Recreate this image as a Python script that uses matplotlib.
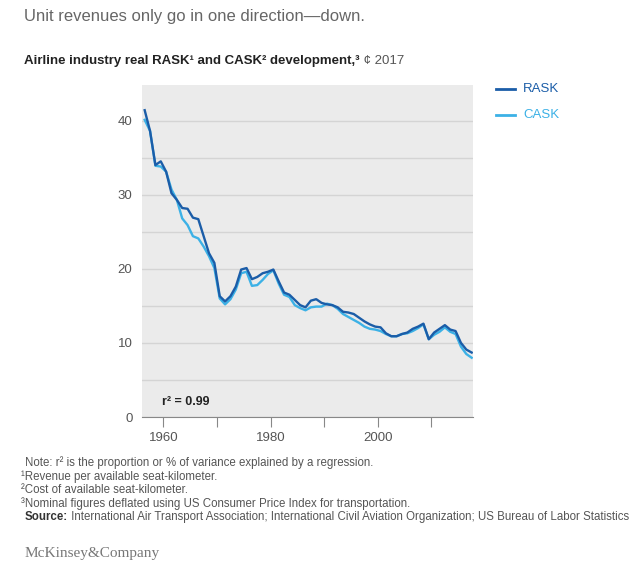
import numpy as np
import matplotlib.pyplot as plt

# annual values, real cents (2017)
years = np.arange(1956, 2018)
rask = [41.4, 38.6, 34.0, 34.5, 33.1, 30.2, 29.3, 28.2, 28.1, 26.9,
        26.7, 24.4, 22.1, 20.8, 16.3, 15.6, 16.3, 17.6, 19.9, 20.1,
        18.6, 18.9, 19.4, 19.6, 19.9, 18.3, 16.8, 16.5, 15.8, 15.1,
        14.8, 15.7, 15.9, 15.4, 15.2, 15.1, 14.8, 14.2, 14.1, 13.9,
        13.4, 12.9, 12.5, 12.2, 12.1, 11.3, 10.9, 10.9, 11.2, 11.4,
        11.9, 12.2, 12.6, 10.5, 11.4, 11.9, 12.4, 11.8, 11.6, 10.0,
        9.1, 8.7]
cask = [40.1, 38.6, 33.9, 33.8, 33.1, 30.7, 29.3, 26.8, 25.9, 24.4,
        24.1, 23.0, 21.7, 20.1, 16.0, 15.2, 15.9, 17.2, 19.4, 19.6,
        17.7, 17.8, 18.5, 19.3, 19.8, 18.0, 16.5, 16.2, 15.1, 14.7,
        14.4, 14.8, 14.9, 14.9, 15.3, 15.1, 14.6, 13.9, 13.5, 13.1,
        12.7, 12.2, 11.9, 11.8, 11.6, 11.2, 10.9, 10.9, 11.2, 11.3,
        11.6, 12.0, 12.5, 10.5, 11.1, 11.5, 12.1, 11.5, 11.2, 9.5,
        8.5, 8.0]
series_names = ["RASK", "CASK"]
ytick_vals = [0, 10, 20, 30, 40]
xtick_vals = [1960, 1970, 1980, 1990, 2000, 2010]
xtick_labels = ["1960", "", "1980", "", "2000", ""]

dark_blue = "#1b5da8"
light_blue = "#3cb1e6"
grey_text = "#555555"

plt.rcParams['font.family'] = ['Liberation Sans', 'DejaVu Sans']

fig = plt.figure(figsize=(6.4, 5.69), dpi=100)
ax = fig.add_axes([0.2223, 0.2671, 0.5172, 0.5835])
ax.set_facecolor("#ebebeb")

# mid-year positions for annual figures
ax.plot(years + 0.5, cask, color=light_blue, lw=1.7, label=series_names[1])
ax.plot(years + 0.5, rask, color=dark_blue, lw=1.7, label=series_names[0])

ax.set_xlim(1956.05, 2017.8)
ax.set_ylim(0, 44.8)
ax.set_yticks(ytick_vals)
ax.set_yticks(np.arange(5, 45, 10), minor=True)
ax.set_xticks(xtick_vals)
ax.set_xticklabels(xtick_labels)
ax.grid(axis="y", which="both", color="#d4d4d4", lw=1)
ax.set_axisbelow(True)
for s in ["top", "left", "right"]:
    ax.spines[s].set_visible(False)
ax.spines["bottom"].set_color("#888888")
ax.tick_params(axis="y", which="both", length=0, labelsize=9.5, labelcolor=grey_text, pad=7)
ax.tick_params(axis="x", length=7, color="#888888", labelsize=9.5, labelcolor=grey_text, pad=4)

ax.text(0.06, 0.045, "r² = 0.99", transform=ax.transAxes, fontsize=9,
        fontweight="bold", color="#222222", va="center")

# legend drawn by hand so the labels take the line colours
fig.lines.append(plt.Line2D([496/640, 515/640], [1-89/569, 1-89/569], color=dark_blue, lw=2, transform=fig.transFigure))
fig.lines.append(plt.Line2D([496/640, 515/640], [1-115/569, 1-115/569], color=light_blue, lw=2, transform=fig.transFigure))
fig.text(523/640, 1-89/569, "RASK", color=dark_blue, fontsize=9.5, va="center")
fig.text(523/640, 1-115/569, "CASK", color=light_blue, fontsize=9.5, va="center")

fig.text(24/640, 1-16/569, "Unit revenues only go in one direction\u2014down.",
         fontsize=12, color="#666666", va="center")
t1 = fig.text(24/640, 1-61/569, "Airline industry real RASK¹ and CASK² development,³",
              fontsize=9.5, fontweight="bold", color="#222222", va="center")
ax.annotate(" \u00a2 2017", xy=(1, 0.5), xycoords=t1, va="center", ha="left",
            fontsize=9.5, color=grey_text, annotation_clip=False)

notes = ["Note: r² is the proportion or % of variance explained by a regression.",
         "¹Revenue per available seat-kilometer.",
         "²Cost of available seat-kilometer.",
         "³Nominal figures deflated using US Consumer Price Index for transportation."]
note_y = [463, 477, 490, 504]
note_x = [25, 21, 21, 21]
for n, xx, yy in zip(notes, note_x, note_y):
    fig.text(xx/640, 1-yy/569, n, fontsize=8.3, color=grey_text, va="center")
src = fig.text(25/640, 1-517/569, "Source:", fontsize=8.3, fontweight="bold",
               color="#333333", va="center")
ax.annotate(" International Air Transport Association; International Civil Aviation Organization; US Bureau of Labor Statistics",
            xy=(1, 0.5), xycoords=src, va="center", ha="left", fontsize=8.3,
            color=grey_text, annotation_clip=False)

fig.text(25/640, 1-553/569, "McKinsey&Company", family="Liberation Serif",
         fontsize=11, color="#777777", va="center")

fig.savefig("out.png", dpi=100)
